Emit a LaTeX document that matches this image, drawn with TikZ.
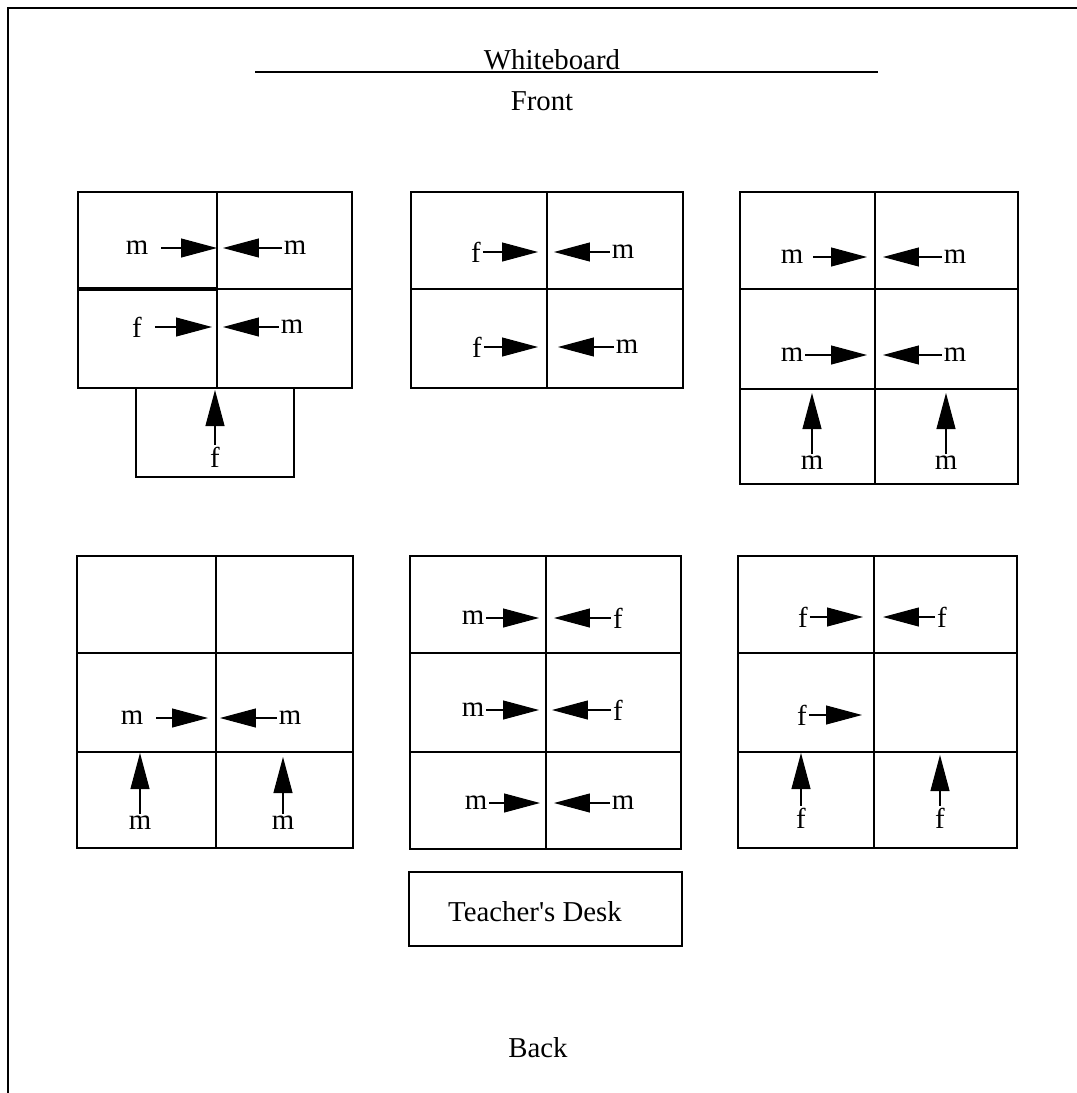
\documentclass[tikz,border=0pt]{standalone}
\usepackage{fontspec}
\setmainfont{Liberation Serif}
\usetikzlibrary{arrows.meta}

\begin{document}
\begin{tikzpicture}[
  x=0.02cm, y=-0.02cm,
  font=\fontsize{16.4}{19}\selectfont,
  >={Triangle[length=0.72cm, width=0.38cm]},
  desk/.style={draw=black, line width=1pt},
  who/.style={inner sep=1pt},
  facing/.style={->, line width=0.6pt},
  gap/.style={shorten <=0.22cm}
]
  \useasboundingbox (0,0) rectangle (1077,1093);

  % Room edge and whiteboard (front)
  \coordinate (tl) at (8,8);
  \coordinate (tr) at (1077,8);
  \coordinate (bl) at (8,1093);
  \draw[line width=1.2pt] (tr) -- (tl) -- (bl);
  \coordinate (wbl) at (255,72);
  \coordinate (wbr) at (878,72);
  \draw[line width=1pt] (wbl) -- (wbr);
  \node[anchor=base] (wb) at (552,69) {Whiteboard};
  \node[anchor=base] (front) at (542,110) {Front};

  % Table group 1 (front left, extra desk below)
  \draw[desk] (78,192) rectangle (352,388);
  \draw[desk] (217,192) -- (217,388);
  \draw[desk] (217,289) -- (352,289);
  \draw[desk, line width=2pt] (78,289) -- (217,289);
  \draw[desk] (136,388) rectangle (294,477);
  \node[who] (a1) at (137,248) {m};
  \node[who] (a2) at (295,248) {m};
  \node[who] (a3) at (137,327) {f};
  \node[who] (a4) at (292,327) {m};
  \node[who] (a5) at (215,457) {f};
  \coordinate (a1t) at (217,248);
  \coordinate (a2t) at (223,248);
  \coordinate (a3t) at (212,327);
  \coordinate (a4t) at (223,327);
  \coordinate (a5t) at (215,390);
  \draw[facing, gap] (a1) -- (a1t);
  \draw[facing] (a2) -- (a2t);
  \draw[facing, gap] (a3) -- (a3t);
  \draw[facing] (a4) -- (a4t);
  \draw[facing] (a5) -- (a5t);

  % Table group 2 (front middle)
  \draw[desk] (411,192) rectangle (683,388);
  \draw[desk] (547,192) -- (547,388);
  \draw[desk] (411,289) -- (683,289);
  \node[who] (b1) at (476,252) {f};
  \node[who] (b2) at (623,252) {m};
  \node[who] (b3) at (477,347) {f};
  \node[who] (b4) at (627,347) {m};
  \coordinate (b1t) at (538,252);
  \coordinate (b2t) at (554,252);
  \coordinate (b3t) at (538,347);
  \coordinate (b4t) at (558,347);
  \draw[facing] (b1) -- (b1t);
  \draw[facing] (b2) -- (b2t);
  \draw[facing] (b3) -- (b3t);
  \draw[facing] (b4) -- (b4t);

  % Table group 3 (front right)
  \draw[desk] (740,192) rectangle (1018,484);
  \draw[desk] (875,192) -- (875,484);
  \draw[desk] (740,289) -- (1018,289);
  \draw[desk] (740,389) -- (1018,389);
  \node[who] (c1) at (792,257) {m};
  \node[who] (c2) at (955,257) {m};
  \node[who] (c3) at (792,355) {m};
  \node[who] (c4) at (955,355) {m};
  \node[who] (c5) at (812,463) {m};
  \node[who] (c6) at (946,463) {m};
  \coordinate (c1t) at (867,257);
  \coordinate (c2t) at (883,257);
  \coordinate (c3t) at (867,355);
  \coordinate (c4t) at (883,355);
  \coordinate (c5t) at (812,393);
  \coordinate (c6t) at (946,393);
  \draw[facing, shorten <=0.16cm] (c1) -- (c1t);
  \draw[facing] (c2) -- (c2t);
  \draw[facing] (c3) -- (c3t);
  \draw[facing] (c4) -- (c4t);
  \draw[facing] (c5) -- (c5t);
  \draw[facing] (c6) -- (c6t);

  % Table group 4 (back left)
  \draw[desk] (77,556) rectangle (353,848);
  \draw[desk] (216,556) -- (216,848);
  \draw[desk] (77,653) -- (353,653);
  \draw[desk] (77,752) -- (353,752);
  \node[who] (d1) at (132,718) {m};
  \node[who] (d2) at (290,718) {m};
  \node[who] (d3) at (140,823) {m};
  \node[who] (d4) at (283,823) {m};
  \coordinate (d1t) at (208,718);
  \coordinate (d2t) at (220,718);
  \coordinate (d3t) at (140,753);
  \coordinate (d4t) at (283,757);
  \draw[facing, gap] (d1) -- (d1t);
  \draw[facing] (d2) -- (d2t);
  \draw[facing] (d3) -- (d3t);
  \draw[facing] (d4) -- (d4t);

  % Table group 5 (back middle)
  \draw[desk] (410,556) rectangle (681,849);
  \draw[desk] (546,556) -- (546,849);
  \draw[desk] (410,653) -- (681,653);
  \draw[desk] (410,752) -- (681,752);
  \node[who] (e1) at (473,618) {m};
  \node[who] (e2) at (618,618) {f};
  \node[who] (e3) at (473,710) {m};
  \node[who] (e4) at (618,710) {f};
  \node[who] (e5) at (476,803) {m};
  \node[who] (e6) at (623,803) {m};
  \coordinate (e1t) at (539,618);
  \coordinate (e2t) at (554,618);
  \coordinate (e3t) at (539,710);
  \coordinate (e4t) at (552,710);
  \coordinate (e5t) at (540,803);
  \coordinate (e6t) at (554,803);
  \draw[facing] (e1) -- (e1t);
  \draw[facing] (e2) -- (e2t);
  \draw[facing] (e3) -- (e3t);
  \draw[facing] (e4) -- (e4t);
  \draw[facing] (e5) -- (e5t);
  \draw[facing] (e6) -- (e6t);

  % Table group 6 (back right)
  \draw[desk] (738,556) rectangle (1017,848);
  \draw[desk] (874,556) -- (874,848);
  \draw[desk] (738,653) -- (1017,653);
  \draw[desk] (738,752) -- (1017,752);
  \node[who] (f1) at (803,617) {f};
  \node[who] (f2) at (942,617) {f};
  \node[who] (f3) at (802,715) {f};
  \node[who] (f4) at (801,818) {f};
  \node[who] (f5) at (940,818) {f};
  \coordinate (f1t) at (863,617);
  \coordinate (f2t) at (883,617);
  \coordinate (f3t) at (862,715);
  \coordinate (f4t) at (801,753);
  \coordinate (f5t) at (940,755);
  \draw[facing] (f1) -- (f1t);
  \draw[facing] (f2) -- (f2t);
  \draw[facing] (f3) -- (f3t);
  \draw[facing] (f4) -- (f4t);
  \draw[facing] (f5) -- (f5t);

  % Teacher's desk and back of room
  \draw[desk] (409,872) rectangle (682,946);
  \node[anchor=base] (tdesk) at (535,921) {Teacher\textquotesingle s Desk};
  \node[anchor=base] (back) at (538,1057) {Back};
\end{tikzpicture}
\end{document}
